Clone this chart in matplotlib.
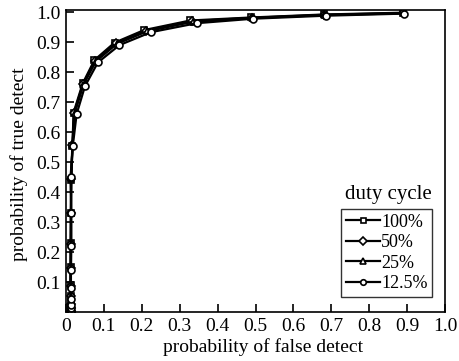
import numpy as np
import matplotlib
matplotlib.use("Agg")
import matplotlib.pyplot as plt

plt.rcParams['font.family'] = 'Liberation Serif'

# ROC points, one list per duty cycle
pd_100 = [0.0, 0.005, 0.015, 0.03, 0.055, 0.09, 0.15, 0.23, 0.33, 0.44,
          0.555, 0.665, 0.762, 0.840, 0.898, 0.940, 0.972, 0.982, 0.992, 0.998]
pf_100 = [0.012, 0.012, 0.012, 0.012, 0.012, 0.012, 0.012, 0.012, 0.013, 0.014,
          0.017, 0.020, 0.044, 0.075, 0.128, 0.206, 0.328, 0.488, 0.680, 0.890]

pd_50 = [0.0, 0.005, 0.014, 0.028, 0.052, 0.088, 0.148, 0.228, 0.33, 0.443,
         0.556, 0.664, 0.760, 0.838, 0.896, 0.938, 0.970, 0.981, 0.991, 0.997]
pf_50 = [0.012, 0.012, 0.012, 0.012, 0.012, 0.012, 0.012, 0.013, 0.013, 0.014,
         0.017, 0.021, 0.045, 0.077, 0.131, 0.210, 0.332, 0.490, 0.681, 0.890]

pd_25 = [0.0, 0.005, 0.013, 0.027, 0.05, 0.085, 0.145, 0.225, 0.33, 0.446,
         0.557, 0.663, 0.758, 0.836, 0.894, 0.936, 0.968, 0.980, 0.990, 0.996]
pf_25 = [0.012, 0.012, 0.012, 0.012, 0.012, 0.012, 0.013, 0.013, 0.013, 0.013,
         0.017, 0.023, 0.046, 0.079, 0.134, 0.214, 0.336, 0.491, 0.682, 0.891]

pd_12 = [0.0, 0.005, 0.012, 0.025, 0.045, 0.08, 0.14, 0.22, 0.33, 0.45,
         0.555, 0.66, 0.753, 0.832, 0.89, 0.933, 0.963, 0.978, 0.988, 0.995]
pf_12 = [0.013, 0.013, 0.013, 0.013, 0.013, 0.013, 0.013, 0.014, 0.014, 0.012,
         0.018, 0.028, 0.050, 0.084, 0.141, 0.224, 0.345, 0.494, 0.685, 0.893]

labels = ['100%', '50%', '25%', '12.5%']
markers = ['s', 'D', '^', 'o']
sizes = [4.5, 4.5, 5, 5]

fig = plt.figure(figsize=(4.59, 3.61), dpi=100)
ax = fig.add_axes([0.1438, 0.1357, 0.8257, 0.8366])

series = [(pf_100, pd_100), (pf_50, pd_50), (pf_25, pd_25), (pf_12, pd_12)]
for (x, y), lab, m, s in zip(series, labels, markers, sizes):
    ax.plot(x, y, color='black', lw=1.6, marker=m, ms=s,
            mfc='white', mec='black', mew=1.2, label=lab)

ax.set_xlim(0, 1.0)
ax.set_ylim(0, 1.007)
ax.set_xticks(np.arange(0, 1.01, 0.1))
ax.set_xticklabels(['0'] + ['%.1f' % v for v in np.arange(0.1, 1.01, 0.1)])
ax.set_yticks(np.arange(0.1, 1.01, 0.1))
ax.set_yticklabels(['%.1f' % v for v in np.arange(0.1, 1.01, 0.1)])
ax.tick_params(direction='in', length=6, width=1.2, labelsize=14,
               top=False, right=False, pad=4)
for sp in ax.spines.values():
    sp.set_linewidth(1.2)

ax.set_xlabel('probability of false detect', fontsize=14, labelpad=0)
ax.xaxis.set_label_coords(0.52, -0.085)
ax.set_ylabel('probability of true detect', fontsize=14, labelpad=2)
ax.yaxis.set_label_coords(-0.1, 0.49)

leg = ax.legend(loc='lower right', bbox_to_anchor=(0.966, 0.05),
                fontsize=13, frameon=True, fancybox=False, edgecolor='black',
                handlelength=1.9, handletextpad=0.05, borderpad=0.25,
                labelspacing=0.2, borderaxespad=0, markerscale=0.8)
leg.get_frame().set_linewidth(1.0)
ax.text(0.85, 0.39, 'duty cycle', transform=ax.transAxes, fontsize=15,
        ha='center', va='center')

fig.savefig('out.png', dpi=100)
